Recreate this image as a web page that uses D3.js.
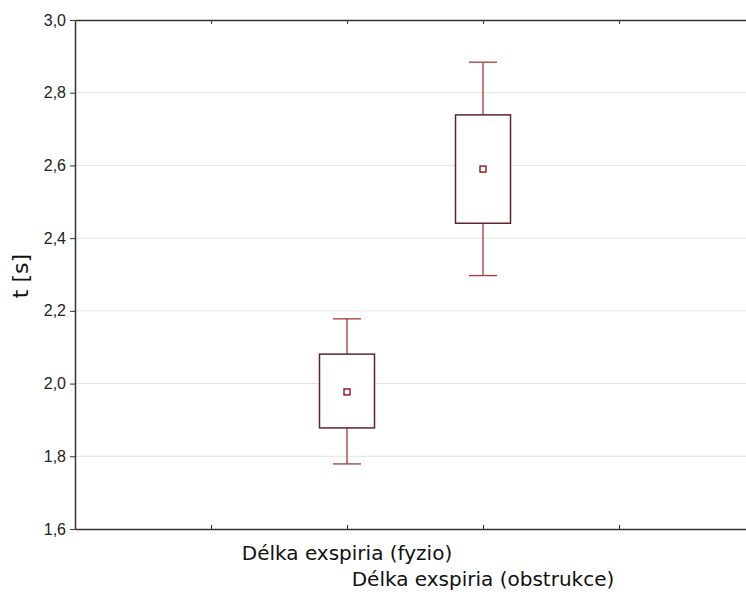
<!DOCTYPE html>
<html>
<head>
<meta charset="utf-8">
<script src="https://cdn.jsdelivr.net/npm/d3@7"></script>
<style>
  body { margin: 0; background: #fff; }
  svg { display: block; }
</style>
</head>
<body>
<svg width="746" height="592"></svg>
<script>
// categories and box statistics
const categories = ['Délka exspiria (fyzio)', 'Délka exspiria (obstrukce)'];
const catPos = [2, 3];               // slot of each category on the x axis
const means = [1.977, 2.590];
const boxLow = [1.878, 2.441];
const boxHigh = [2.081, 2.739];
const whiskLow = [1.779, 2.297];
const whiskHigh = [2.178, 2.884];
const yTicks = [1.6, 1.8, 2.0, 2.2, 2.4, 2.6, 2.8, 3.0];
const xTicks = [1, 2, 3, 4];

const svg = d3.select('svg');
const plotLeft = 75, plotTop = 20, plotBottom = 529, plotRight = 755;

const y = d3.scaleLinear().domain([1.6, 3.0]).range([plotBottom, plotTop]);
const x = d3.scaleLinear().domain([0, 5]).range([plotLeft, plotRight]);

const fmt = d => d.toFixed(1).replace('.', ',');

// grid lines
svg.append('g')
    .selectAll('line')
    .data(yTicks.filter(t => t > 1.6 && t < 3.0))
    .enter()
    .append('line')
    .attr('x1', plotLeft).attr('x2', plotRight)
    .attr('y1', d => y(d)).attr('y2', d => y(d))
    .attr('stroke', '#e3e3e3')
    .attr('stroke-width', 1);

// left axis
const yAxis = svg.append('g')
    .attr('transform', 'translate(' + plotLeft + ',0)')
    .call(d3.axisLeft(y).tickValues(yTicks).tickFormat(fmt).tickSize(5).tickSizeOuter(0));
yAxis.select('.domain').attr('stroke', '#333').attr('stroke-width', 1.5);
yAxis.selectAll('.tick line').attr('stroke', '#333');
yAxis.selectAll('.tick text')
    .attr('x', -9)
    .style('font-family', '"Liberation Sans", Arial, sans-serif')
    .style('font-size', '16px')
    .attr('fill', '#222');

// bottom axis, ticks pointing in
const xAxis = svg.append('g')
    .attr('transform', 'translate(0,' + plotBottom + ')')
    .call(d3.axisBottom(x).tickValues(xTicks).tickFormat('').tickSize(-4).tickSizeOuter(0));
xAxis.select('.domain').attr('stroke', '#333').attr('stroke-width', 1.5);
xAxis.selectAll('.tick line').attr('stroke', '#333');

// top frame line, ticks pointing in
const xTop = svg.append('g')
    .attr('transform', 'translate(0,' + plotTop + ')')
    .call(d3.axisTop(x).tickValues(xTicks).tickFormat('').tickSize(-4).tickSizeOuter(0));
xTop.select('.domain').attr('stroke', '#333').attr('stroke-width', 1.5);
xTop.selectAll('.tick line').attr('stroke', '#333');

// category labels, staggered
svg.append('g')
    .selectAll('text')
    .data(categories)
    .enter()
    .append('text')
    .attr('x', (d, i) => x(catPos[i]))
    .attr('y', (d, i) => 560 + i * 26)
    .attr('text-anchor', 'middle')
    .style('font-family', '"DejaVu Sans", Verdana, sans-serif')
    .style('font-size', '20px')
    .attr('fill', '#111')
    .text(d => d);

// y title
svg.append('text')
    .attr('transform', 'translate(28,276) rotate(-90)')
    .attr('text-anchor', 'middle')
    .style('font-family', '"DejaVu Sans", Verdana, sans-serif')
    .style('font-size', '22px')
    .attr('fill', '#111')
    .text('t [s]');

// boxes
const boxW = 55, capW = 28, markS = 6;
const boxes = svg.append('g')
    .selectAll('g')
    .data(categories)
    .enter()
    .append('g');

boxes.append('line') // whisker stem
    .attr('x1', (d, i) => x(catPos[i])).attr('x2', (d, i) => x(catPos[i]))
    .attr('y1', (d, i) => y(whiskLow[i])).attr('y2', (d, i) => y(whiskHigh[i]))
    .attr('stroke', '#a8383a').attr('stroke-width', 1.3);

[whiskLow, whiskHigh].forEach(arr => {
    boxes.append('line') // caps
        .attr('x1', (d, i) => x(catPos[i]) - capW / 2).attr('x2', (d, i) => x(catPos[i]) + capW / 2)
        .attr('y1', (d, i) => y(arr[i])).attr('y2', (d, i) => y(arr[i]))
        .attr('stroke', '#a8383a').attr('stroke-width', 1.3);
});

boxes.append('rect')
    .attr('x', (d, i) => x(catPos[i]) - boxW / 2)
    .attr('width', boxW)
    .attr('y', (d, i) => y(boxHigh[i]))
    .attr('height', (d, i) => y(boxLow[i]) - y(boxHigh[i]))
    .attr('fill', '#fff')
    .attr('stroke', '#5e2528')
    .attr('stroke-width', 1.5);

boxes.append('rect') // mean marker
    .attr('x', (d, i) => x(catPos[i]) - markS / 2)
    .attr('y', (d, i) => y(means[i]) - markS / 2)
    .attr('width', markS).attr('height', markS)
    .attr('fill', '#fff')
    .attr('stroke', '#8b0000')
    .attr('stroke-width', 1.3);
</script>
</body>
</html>
